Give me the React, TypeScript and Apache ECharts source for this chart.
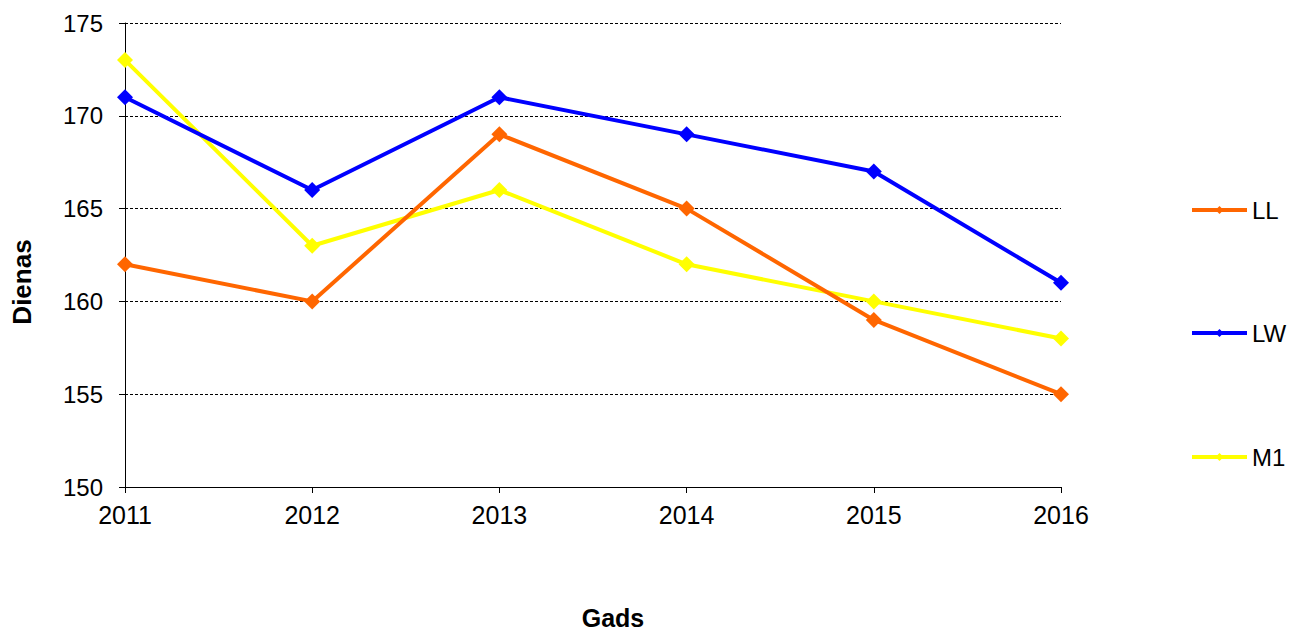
import React, { useEffect, useRef } from "react";
import * as echarts from "echarts";

const years = ["2011", "2012", "2013", "2014", "2015", "2016"];
const llValues = [162, 160, 169, 165, 159, 155];
const lwValues = [171, 166, 171, 169, 167, 161];
const m1Values = [173, 163, 166, 162, 160, 158];
const seriesNames = ["LL", "LW", "M1"];
const seriesColors = ["#FF6600", "#0000FF", "#FFFF00"];
const yAxisTitle = "Dienas";
const xAxisTitle = "Gads";

export default function App() {
  const ref = useRef<HTMLDivElement>(null);
  useEffect(() => {
    if (!ref.current) return;
    const chart = echarts.init(ref.current, null, { renderer: "svg" });
    const font = "Liberation Sans, Arial, sans-serif";
    const data = [llValues, lwValues, m1Values];
    const legendTops = [198, 321, 445];
    chart.setOption({
      animation: false,
      backgroundColor: "#ffffff",
      textStyle: { fontFamily: font },
      grid: { left: 125, top: 23, right: 238, bottom: 144, containLabel: false },
      legend: seriesNames.map((name, i) => ({
        orient: "vertical",
        left: 1190,
        top: legendTops[i],
        padding: 0,
        itemWidth: 55,
        itemHeight: 10,
        itemGap: 3,
        textStyle: { fontSize: 24, color: "#000", fontFamily: font },
        lineStyle: { width: 4 },
        data: [name],
      })),
      xAxis: {
        type: "category",
        data: years,
        boundaryGap: false,
        axisLine: { lineStyle: { color: "#000", width: 1 } },
        axisTick: { show: true, alignWithLabel: true, length: 6, lineStyle: { color: "#000" } },
        axisLabel: { fontSize: 25, color: "#000", margin: 15, fontFamily: font },
        splitLine: { show: false },
      },
      yAxis: {
        type: "value",
        min: 150,
        max: 175,
        interval: 5,
        axisLine: { show: true, lineStyle: { color: "#000", width: 1 } },
        axisTick: { show: true, length: 6, lineStyle: { color: "#000" } },
        axisLabel: { fontSize: 24, color: "#000", margin: 22, fontFamily: font },
        splitLine: { show: true, lineStyle: { color: "#000", type: [3, 2], width: 1 } },
      },
      graphic: [
        {
          type: "text",
          x: 22,
          y: 282,
          rotation: Math.PI / 2,
          style: {
            text: yAxisTitle,
            fontSize: 26,
            fontWeight: "bold",
            fill: "#000",
            fontFamily: font,
            align: "center",
            verticalAlign: "middle",
          },
        },
        {
          type: "text",
          x: 613,
          y: 630,
          style: {
            text: xAxisTitle,
            fontSize: 25,
            fontWeight: "bold",
            fill: "#000",
            fontFamily: font,
            align: "center",
            verticalAlign: "bottom",
          },
        },
      ],
      series: seriesNames.map((name, i) => ({
        name,
        type: "line",
        data: data[i],
        symbol: "diamond",
        symbolSize: 16,
        lineStyle: { color: seriesColors[i], width: 4 },
        itemStyle: { color: seriesColors[i] },
        z: 3 - i,
      })),
    });
    return () => chart.dispose();
  }, []);
  return (
    <div
      ref={ref}
      style={{ position: "fixed", left: 0, top: 0, width: 1299, height: 631 }}
    />
  );
}
